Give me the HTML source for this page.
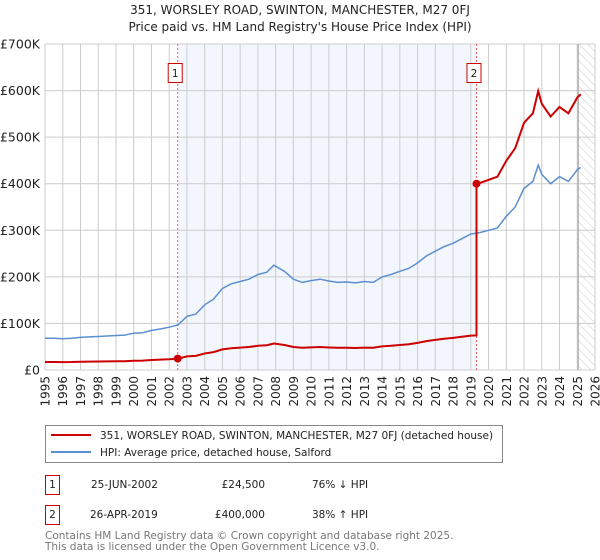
<!DOCTYPE html>
<html><head><meta charset="utf-8"><style>
body{margin:0;background:#fff;font-family:"DejaVu Sans","Liberation Sans",sans-serif}
svg{display:block}
text{font-family:"DejaVu Sans","Liberation Sans",sans-serif}
</style></head><body>
<svg id="c" width="600" height="560" viewBox="0 0 600 560">
<defs><pattern id="hatch" width="6" height="6" patternUnits="userSpaceOnUse" patternTransform="rotate(-45)"><line x1="0" y1="0" x2="0" y2="6" stroke="#ccc" stroke-width="1"/></pattern></defs>
<text x="300" y="14" font-size="12" text-anchor="middle" fill="#222">351, WORSLEY ROAD, SWINTON, MANCHESTER, M27 0FJ</text>
<text x="300" y="31" font-size="12" text-anchor="middle" fill="#222">Price paid vs. HM Land Registry's House Price Index (HPI)</text>
<g id="plot"></g>
<g>
<rect x="45.5" y="425.5" width="457" height="37" fill="#fff" stroke="#888"/>
<line x1="51" y1="435" x2="91" y2="435" stroke="#cc0000" stroke-width="2"/>
<text x="100" y="439" font-size="10.5" fill="#222">351, WORSLEY ROAD, SWINTON, MANCHESTER, M27 0FJ (detached house)</text>
<line x1="51" y1="452" x2="91" y2="452" stroke="#5b8fd0" stroke-width="2"/>
<text x="100" y="456" font-size="10.5" fill="#222">HPI: Average price, detached house, Salford</text>
</g>
<g font-size="10.5" fill="#222">
<rect x="45.5" y="475.5" width="14" height="19" fill="none" stroke="#cc0000"/><text x="52.5" y="488" text-anchor="middle">1</text>
<text x="91" y="488">25-JUN-2002</text><text x="265" y="488" text-anchor="end">£24,500</text><text x="312" y="488">76% ↓ HPI</text>
<rect x="45.5" y="505.5" width="14" height="19" fill="none" stroke="#cc0000"/><text x="52.5" y="518" text-anchor="middle">2</text>
<text x="90" y="518">26-APR-2019</text><text x="265" y="518" text-anchor="end">£400,000</text><text x="312" y="518">38% ↑ HPI</text>
</g>
<text x="45" y="539" font-size="10.5" fill="#777">Contains HM Land Registry data © Crown copyright and database right 2025.</text>
<text x="45" y="550" font-size="10.5" fill="#777">This data is licensed under the Open Government Licence v3.0.</text>
</svg>
<script>
const hpiYears=[1995,1995.5,1996,1996.5,1997,1997.5,1998,1998.5,1999,1999.5,2000,2000.5,2001,2001.5,2002,2002.5,2003,2003.5,2004,2004.5,2005,2005.5,2006,2006.5,2007,2007.5,2007.9,2008.5,2009,2009.5,2010,2010.5,2011,2011.5,2012,2012.5,2013,2013.5,2014,2014.5,2015,2015.5,2016,2016.5,2017,2017.5,2018,2018.5,2019,2019.5,2020,2020.5,2021,2021.5,2022,2022.5,2022.8,2023,2023.5,2024,2024.5,2025,2025.2];
const hpiValues=[68,68,67,68,70,71,72,73,74,75,79,80,85,88,92,97,115,120,140,152,175,185,190,195,205,210,225,212,195,188,192,195,191,188,189,187,190,188,200,205,212,218,230,245,255,265,272,282,292,295,300,305,330,350,390,405,440,420,400,415,405,430,435];
const saleYears=[2002.48,2019.32];
const salePrices=[24.5,400];
const yTicks=[0,100,200,300,400,500,600,700];
const yTickLabels=["£0","£100K","£200K","£300K","£400K","£500K","£600K","£700K"];
const xTicks=[1995,1996,1997,1998,1999,2000,2001,2002,2003,2004,2005,2006,2007,2008,2009,2010,2011,2012,2013,2014,2015,2016,2017,2018,2019,2020,2021,2022,2023,2024,2025,2026];
const L=45,R=595,T=44,B=370,x0=1995,x1=2026,yMax=700;
const X=v=>L+(v-x0)/(x1-x0)*(R-L);
const Y=v=>B-v/yMax*(B-T);
const ns="http://www.w3.org/2000/svg";
const g=document.getElementById('plot');
function mk(t,a,p){const e=document.createElementNS(ns,t);for(const k in a)e.setAttribute(k,a[k]);(p||g).appendChild(e);return e;}
function hpiAt(t){for(let i=0;i<hpiYears.length-1;i++){if(t<=hpiYears[i+1]){const f=(t-hpiYears[i])/(hpiYears[i+1]-hpiYears[i]);return hpiValues[i]+f*(hpiValues[i+1]-hpiValues[i]);}}return hpiValues[hpiValues.length-1];}
let e=mk('rect',{x:X(saleYears[0]),y:T,width:X(saleYears[1])-X(saleYears[0]),height:B-T,fill:'#eef3fc',opacity:0.7});


const lastY=hpiYears[hpiYears.length-1]-0.15;
e=mk('rect',{x:X(lastY),y:T,width:R-X(lastY),height:B-T,fill:'url(#hatch)'});


xTicks.forEach(t=>{const l=mk('line',{x1:X(t),x2:X(t),y1:T,y2:B,stroke:'#ccc','stroke-width':1});


const tx=mk('text',{x:X(t)+4.5,y:376,'font-size':12,fill:'#222','text-anchor':'end',transform:`rotate(-90 ${X(t)+4.5} 376)`});tx.textContent=t;

});
yTicks.forEach((t,i)=>{const l=mk('line',{x1:L,x2:R,y1:Y(t),y2:Y(t),stroke:'#ccc','stroke-width':1});


const tx=mk('text',{x:40,y:Y(t)+4.5,'font-size':12.5,fill:'#222','text-anchor':'end'});tx.textContent=yTickLabels[i];

});
e=mk('line',{x1:X(lastY),x2:X(lastY),y1:T,y2:B,stroke:'#999','stroke-width':1});


saleYears.forEach((s,i)=>{const l=mk('line',{x1:X(s),x2:X(s),y1:T,y2:B,stroke:'#f06060','stroke-width':1,'stroke-dasharray':'2,2'});


const bx=mk('rect',{x:X(s)-9.5,y:63.5,width:14,height:19,fill:'#fff',stroke:'#cc0000'});


const tx=mk('text',{x:X(s)-2.5,y:77,'font-size':10.5,fill:'#222','text-anchor':'middle'});tx.textContent=i+1;

});
let d=hpiYears.map((t,i)=>(i?'L':'M')+X(t).toFixed(1)+' '+Y(hpiValues[i]).toFixed(1)).join(' ');
e=mk('path',{d,fill:'none',stroke:'#5b8fd0','stroke-width':1.5});


const r1=salePrices[0]/hpiAt(saleYears[0]),r2=salePrices[1]/hpiAt(saleYears[1]);
let pts=[];
hpiYears.forEach((t,i)=>{if(t<saleYears[1])pts.push([t,hpiValues[i]*r1]);});
pts.push([saleYears[1],hpiAt(saleYears[1])*r1]);
pts.push([saleYears[1],salePrices[1]]);
hpiYears.forEach((t,i)=>{if(t>saleYears[1])pts.push([t,hpiValues[i]*r2]);});
d=pts.map((p,i)=>(i?'L':'M')+X(p[0]).toFixed(1)+' '+Y(p[1]).toFixed(1)).join(' ');
e=mk('path',{d,fill:'none',stroke:'#cc0000','stroke-width':2});


saleYears.forEach((s,i)=>{const c=mk('circle',{cx:X(s),cy:Y(salePrices[i]),r:4,fill:'#cc0000'});

});
</script>
</body></html>
